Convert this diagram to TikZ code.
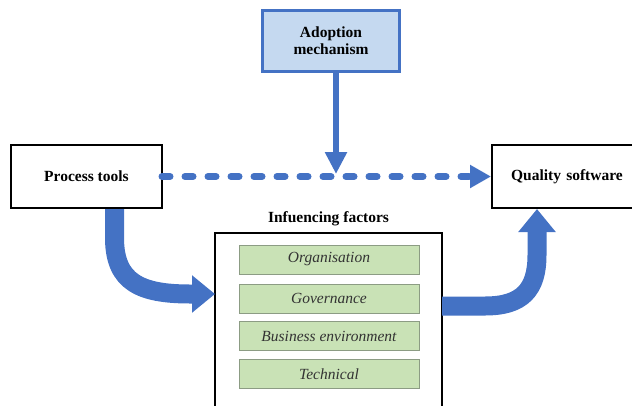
\documentclass[tikz,border=0pt]{standalone}
\usepackage{fontspec}
\setmainfont{Liberation Serif}
\usetikzlibrary{arrows.meta}

\definecolor{arrowblue}{HTML}{4472C4}
\definecolor{lightblue}{HTML}{C5D9F0}
\definecolor{lightgreen}{HTML}{C9E2B6}
\definecolor{greenline}{HTML}{8C9C84}

\newcommand{\diagfont}{\fontsize{15.5}{18}\selectfont}

\tikzset{
  box/.style={draw=black, line width=2pt, inner sep=0pt, font=\diagfont\bfseries},
  factor/.style={draw=greenline, fill=lightgreen, line width=1pt,
    minimum width=180pt, minimum height=29pt, inner sep=0pt,
    font=\diagfont\itshape\color{black!80}},
  bigarrow/.style={arrowblue, line width=19pt,
    -{Triangle[length=23pt, width=36pt]}},
}

\begin{document}
\begin{tikzpicture}[x=1pt, y=-1pt, font=\diagfont]
    \useasboundingbox (0,0) rectangle (632,405);
    %% boxes on the main line
    \node[box, minimum width=151pt, minimum height=63pt] (pt) at (86.5,176.5) {Process tools};
    \node[box, minimum width=150pt, minimum height=63pt, text width=150pt, align=center,
      inner sep=0pt] (qs) at (567,176.5) {Quality software};
    \node[box, draw=arrowblue, fill=lightblue, line width=3pt, minimum width=137pt,
      minimum height=61pt, align=center] (ad) at (331,41)
      {Adoption\\[-1pt]mechanism};
    %% influencing factors, open at the bottom
    \draw[line width=2pt] (215,410) coordinate (if sw) -- (215,233) -- (442,233)
      coordinate (if ne) -- (442,410);
    \node[font=\diagfont\bfseries] (ift) at (328.5,219) {Infuencing factors};
    \node[factor] (org) at (329,259.5) {Organisation};
    \node[factor] (gov) at (329,298.5) {Governance};
    \node[factor] (bus) at (329,336) {Business environment};
    \node[factor] (tec) at (329,374) {Technical};
    %% arrows
    \draw[arrowblue, line width=7pt, line cap=round, dash pattern=on 8pt off 15pt,
      -{Triangle[length=21pt, width=22pt]}] ([xshift=-1pt]pt.east) -- (qs.west);
    \draw[arrowblue, line width=6pt, -{Triangle[length=22pt, width=21pt]}]
      ([xshift=5pt]ad.south) -- ([xshift=5pt]ad.south |- 0,174);
    \draw[bigarrow] ([xshift=28pt]pt.south) -- ++(0,30)
      .. controls (115,282) and (140,294) .. (190,294) -- (if sw |- 0,294);
    \draw[bigarrow] (if ne |- 0,306) -- (485,306)
      .. controls (522,306) and (537,290) .. (537,255) -- ([xshift=-30pt]qs.south);
\end{tikzpicture}
\end{document}
